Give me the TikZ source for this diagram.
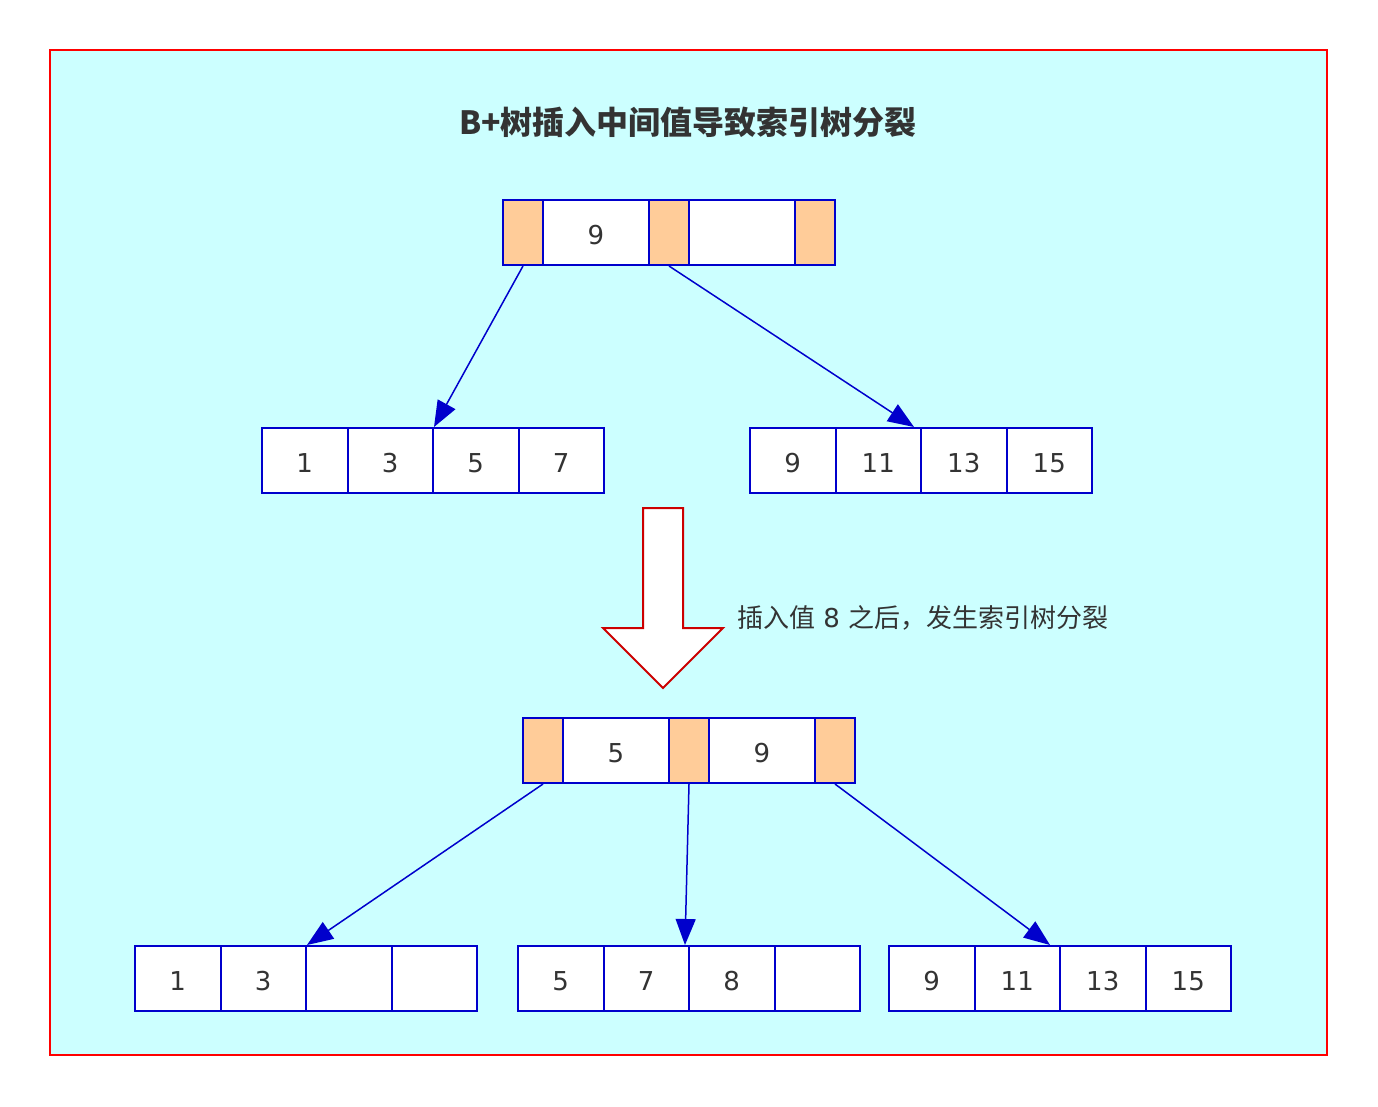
\documentclass[tikz,border=0pt]{standalone}
\usepackage{fontspec}
\setmainfont{DejaVu Sans}
\newfontfamily\cjk{Noto Sans CJK SC}
\usetikzlibrary{arrows.meta}
\definecolor{bgcyan}{HTML}{CCFFFF}
\definecolor{framered}{HTML}{FF0000}
\definecolor{nodeblue}{HTML}{0000CC}
\definecolor{ptrorange}{HTML}{FFCC99}
\definecolor{txtgray}{HTML}{333333}
\definecolor{bigred}{HTML}{CC0000}
\tikzset{
  cell/.style={draw=nodeblue, line width=2pt, fill=white, inner sep=0pt,
    minimum height=65pt, text=txtgray, text height=23pt, text depth=0pt,
    font=\fontsize{26pt}{30pt}\selectfont},
  ptr/.style={cell, fill=ptrorange, minimum width=40pt},
  keyc/.style={cell, minimum width=106pt},
  leafc/.style={cell, minimum width=85.5pt},
  link/.style={draw=nodeblue, line width=1.5pt, -{Triangle[length=26pt,width=20pt]}},
  bigarrow/.style={draw=bigred, line width=2pt, fill=white, line join=miter},
}
\begin{document}
\begin{tikzpicture}[x=1pt,y=-1pt]
\useasboundingbox (0,0) rectangle (1378,1106);
\fill[white] (0,0) rectangle (1378,1106);
\draw[framered, line width=2pt, fill=bgcyan] (50,50) rectangle (1327,1055);

% title
\node[font=\cjk\bfseries\fontsize{32pt}{38pt}\selectfont, text=txtgray] (title) at (688,122) {B+树插入中间值导致索引树分裂};

% top node (before)
\node[ptr]  (t0) at (523,232.5) {};
\node[keyc] (t1) at (596,232.5) {9};
\node[ptr]  (t2) at (669,232.5) {};
\node[keyc] (t3) at (742,232.5) {};
\node[ptr]  (t4) at (815,232.5) {};

% leaves (before)
\node[leafc] (la) at (304.75,460.5) {1};
\node[leafc] (lb) at (390.25,460.5) {3};
\node[leafc] (lc) at (475.75,460.5) {5};
\node[leafc] (ld) at (561.25,460.5) {7};
\node[leafc] (ra) at (792.75,460.5) {9};
\node[leafc] (rb) at (878.25,460.5) {11};
\node[leafc] (rc) at (963.75,460.5) {13};
\node[leafc] (rd) at (1049.25,460.5) {15};

\draw[link] (t0.south) -- (lb.north east);
\draw[link] (t2.south) -- ([xshift=-8pt]rb.north east);

% big arrow
\draw[bigarrow] (643,508) -- (683,508) -- (683,628) -- (723,628) -- (663,688) -- (603,628) -- (643,628) -- cycle;
\node[anchor=west, inner sep=0pt, text=txtgray, font=\fontsize{26pt}{30pt}\selectfont] (lab) at (737,618) {{\cjk 插入值} 8 {\cjk 之后，发生索引树分裂}};

% second node (after)
\node[ptr]  (s0) at (543,750.5) {};
\node[keyc] (s1) at (616,750.5) {5};
\node[ptr]  (s2) at (689,750.5) {};
\node[keyc] (s3) at (762,750.5) {9};
\node[ptr]  (s4) at (835,750.5) {};

% leaves (after)
\node[leafc] (pa) at (177.75,978.5) {1};
\node[leafc] (pb) at (263.25,978.5) {3};
\node[leafc] (pc) at (348.75,978.5) {};
\node[leafc] (pd) at (434.25,978.5) {};
\node[leafc] (qa) at (560.75,978.5) {5};
\node[leafc] (qb) at (646.25,978.5) {7};
\node[leafc] (qc) at (731.75,978.5) {8};
\node[leafc] (qd) at (817.25,978.5) {};
\node[leafc] (ua) at (931.75,978.5) {9};
\node[leafc] (ub) at (1017.25,978.5) {11};
\node[leafc] (uc) at (1102.75,978.5) {13};
\node[leafc] (ud) at (1188.25,978.5) {15};

\draw[link] (s0.south) -- (pb.north east);
\draw[link] (s2.south) -- ([xshift=-5pt]qb.north east);
\draw[link] (s4.south) -- ([xshift=-11pt]ub.north east);
\end{tikzpicture}
\end{document}
